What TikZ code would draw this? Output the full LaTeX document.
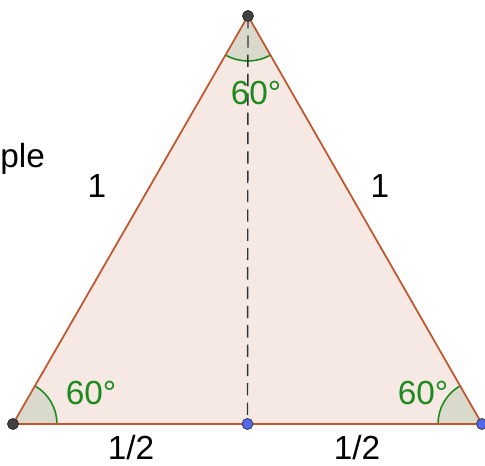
\documentclass[tikz,border=0pt]{standalone}
\usepackage{fontspec}
\setmainfont{Liberation Sans}
\definecolor{triFill}{HTML}{F6E9E4}
\definecolor{triEdge}{HTML}{C2562E}
\definecolor{angFill}{HTML}{D9DACB}
\definecolor{angGreen}{HTML}{1E8A1E}
\definecolor{ptBlue}{HTML}{5566EE}
\begin{document}
\begin{tikzpicture}[
   x=0.02cm,y=0.02cm,
   vertex/.style={circle,fill=black!75,draw=black!85,inner sep=0pt,minimum size=6.3pt},
   midpt/.style={circle,fill=ptBlue,draw=black!80,inner sep=0pt,minimum size=6.3pt},
   angle/.style={fill=angFill,draw=none},
   anglearc/.style={draw=angGreen,line width=0.9pt},
   every node/.style={font=\fontsize{19}{22}\selectfont}
 ]
  \useasboundingbox (0,0) rectangle (485,466);
  \coordinate (A) at (13,42);
  \coordinate (B) at (482,42);
  \coordinate (C) at (248,450);
  \coordinate (M) at (247.5,42);

  % triangle
  \fill[triFill] (A)--(B)--(C)--cycle;

  % angles
  \fill[angle] (A)--++(0:44) arc[start angle=0,end angle=60,radius=44]--cycle;
  \draw[anglearc] ([shift={(0:44)}]A) arc[start angle=0,end angle=60,radius=44];
  \fill[angle] (B)--++(120:44) arc[start angle=120,end angle=180,radius=44]--cycle;
  \draw[anglearc] ([shift={(120:44)}]B) arc[start angle=120,end angle=180,radius=44];
  \fill[angle] (C)--++(240:45) arc[start angle=240,end angle=300,radius=45]--cycle;
  \draw[anglearc] ([shift={(240:45)}]C) arc[start angle=240,end angle=300,radius=45];

  \draw[triEdge,line width=1pt] (A)--(B)--(C)--cycle;
  \draw[black!80,dashed,dash pattern=on 7pt off 4pt,line width=0.8pt] (C)--(M);

  % points
  \node[vertex] (a) at (A) {};
  \node[vertex] (c) at (C) {};
  \node[midpt] (b) at (B) {};
  \node[midpt] (m) at (M) {};

  % labels
  \node[anchor=base,text=angGreen] (angC) at (256,361) {60°};
  \node[anchor=base,text=angGreen] (angA) at (91,61) {60°};
  \node[anchor=base,text=angGreen] (angB) at (423,61) {60°};
  \node[anchor=base] (sideL) at (97,268) {1};
  \node[anchor=base] (sideR) at (380,268) {1};
  \node[anchor=base,inner sep=0pt] (halfL) at (131,6) {1/2};
  \node[anchor=base,inner sep=0pt] (halfR) at (357,6) {1/2};
  \node[anchor=base west,inner sep=0pt] (cut) at (0,298) {ple};
\end{tikzpicture}
\end{document}
